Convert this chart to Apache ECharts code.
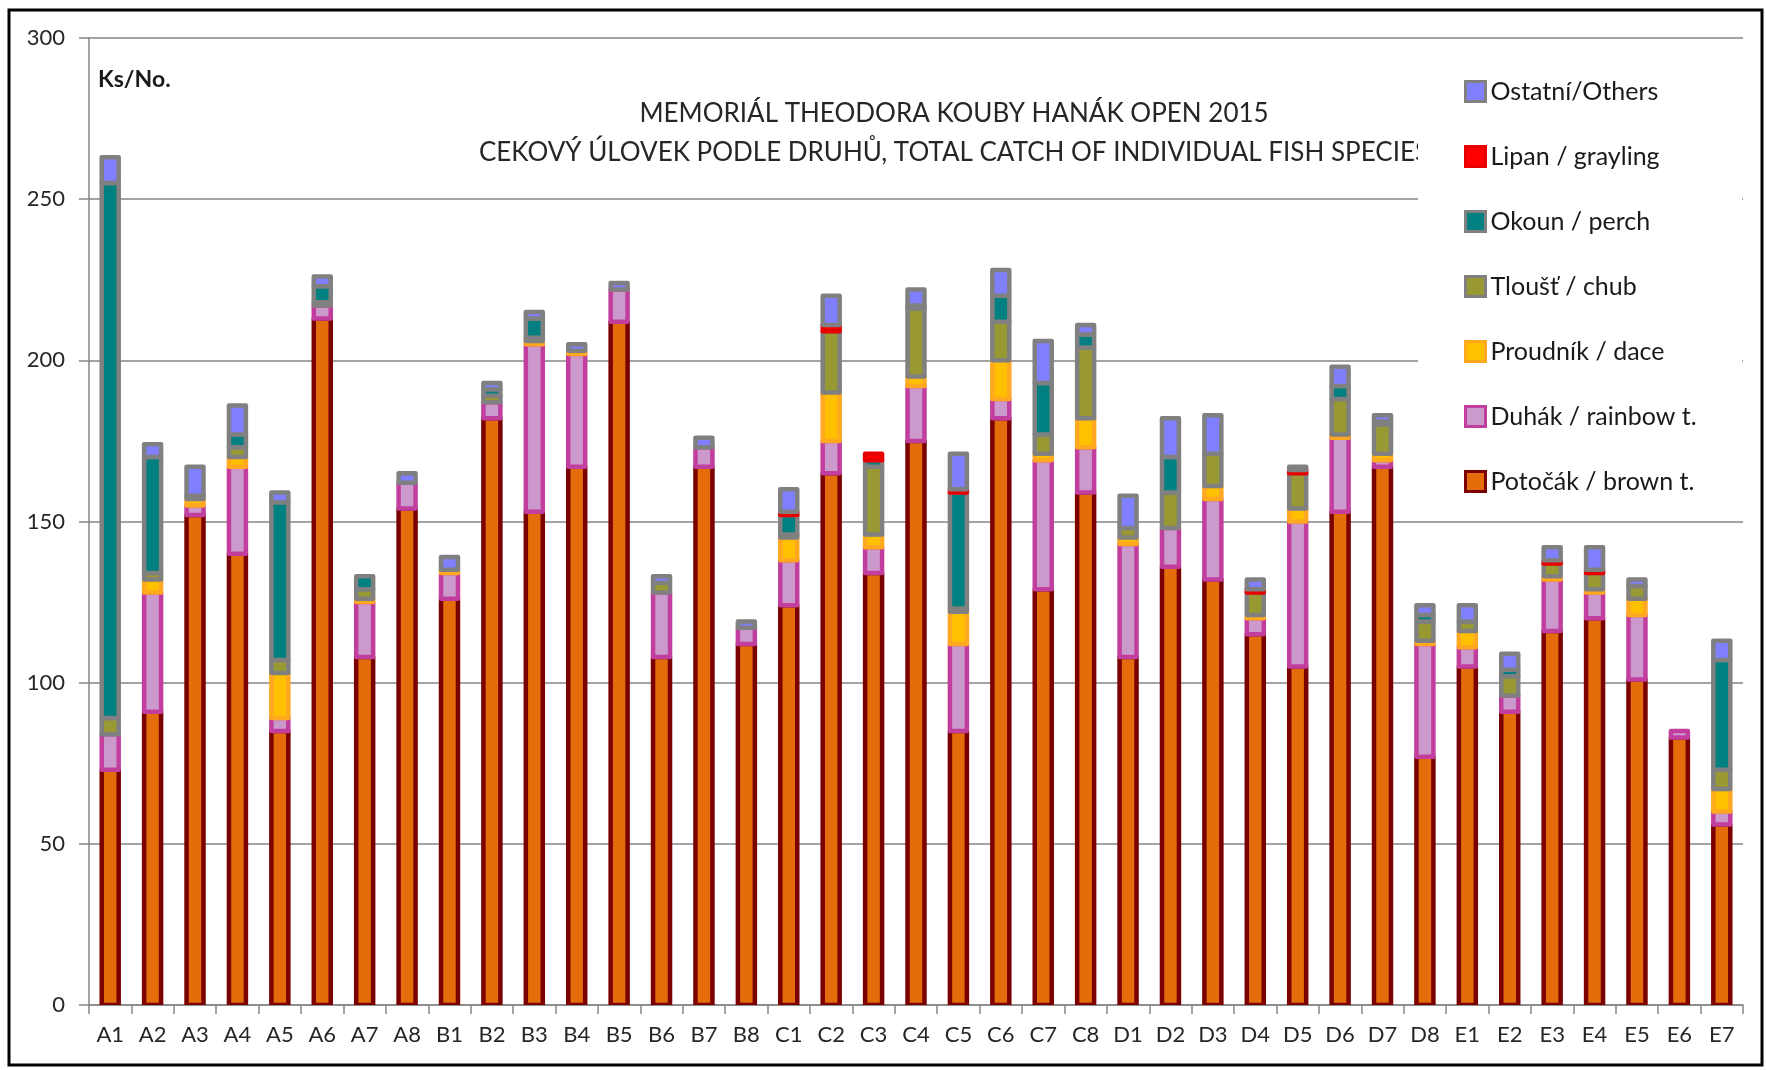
<!DOCTYPE html>
<html><head><meta charset="utf-8">
<script src="https://cdn.jsdelivr.net/npm/echarts@6.0.0/dist/echarts.min.js"></script>
<style>html,body{margin:0;padding:0;background:#fff}#c{width:1766px;height:1070px}</style>
</head><body><div id="c"></div>
<script>
const categories = ['A1','A2','A3','A4','A5','A6','A7','A8','B1','B2','B3','B4','B5','B6','B7','B8','C1','C2','C3','C4','C5','C6','C7','C8','D1','D2','D3','D4','D5','D6','D7','D8','E1','E2','E3','E4','E5','E6','E7'];
const yTicks = [0, 50, 100, 150, 200, 250, 300];
const potocak  = [73,91,152,140,85,213,108,154, 126,182,153,167,212,108,167,112, 124,165,134,175,85,182,129,159, 108,136,132,115,105,153,167,77, 105,91,116,120,101,83,56];
const duhak    = [11,37,3,27,4,4,17,8, 8,5,52,35,10,20,6,5, 14,10,8,17,27,6,40,14, 35,12,25,5,45,23,2,35, 6,5,16,8,20,2,4];
const proudnik = [0,4,2,3,14,0,1,0, 1,0,1,1,0,0,0,0, 7,15,4,3,10,12,2,9, 2,0,4,1,4,1,2,1, 5,0,1,1,5,0,7];
const tloust   = [5,2,1,3,4,1,3,0, 0,2,1,0,0,3,0,0, 1,19,21,21,1,12,6,22, 3,11,10,7,11,11,9,6, 3,6,4,5,4,0,6];
const okoun    = [166,36,0,4,49,5,4,0, 0,2,6,0,0,0,0,0, 6,0,2,1,36,8,16,4, 0,11,0,0,0,4,1,2, 0,2,0,0,0,0,34];
const lipan    = [0,0,0,0,0,0,0,0, 0,0,0,0,0,0,0,0, 1,2,2,0,1,0,0,0, 0,0,0,1,1,0,0,0, 0,0,1,1,0,0,0];
const ostatni  = [8,4,9,9,3,3,0,3, 4,2,2,2,2,2,3,2, 7,9,0,5,11,8,13,3, 10,12,12,3,1,6,2,3, 5,5,4,7,2,0,6];

const seriesDefs = [
  {name:'Potočák / brown t.', data: potocak,  fill:'#E46C0A', border:'#7B0000'},
  {name:'Duhák / rainbow t.', data: duhak,    fill:'#CC99CC', border:'#C23E9E'},
  {name:'Proudník / dace',    data: proudnik, fill:'#FFC000', border:'#FFA820'},
  {name:'Tloušť / chub',      data: tloust,   fill:'#999933', border:'#808080'},
  {name:'Okoun / perch',      data: okoun,    fill:'#008080', border:'#808080'},
  {name:'Lipan / grayling',   data: lipan,    fill:'#FF0000', border:'#E80000'},
  {name:'Ostatní/Others',     data: ostatni,  fill:'#7F7FFF', border:'#808080'}
];
const FONT = 'Lato, "Open Sans", sans-serif';

// stacked segments [categoryIndex, base, top] built from the arrays above
const cum = categories.map(() => 0);
const segs = seriesDefs.map(s => {
  const out = [];
  s.data.forEach((v, i) => { if (v > 0) out.push([i, cum[i], cum[i] + v]); cum[i] += v; });
  return out;
});

const chart = echarts.init(document.getElementById('c'), null, {renderer:'canvas'});
chart.setOption({
  animation: false,
  backgroundColor: '#ffffff',
  grid: {left: 89, right: 23, top: 38, bottom: 65, containLabel: false, outerBoundsMode: 'none'},
  xAxis: {
    type: 'category', data: categories, boundaryGap: true,
    axisLine: {show: true, lineStyle: {color: '#868686', width: 1.5}},
    axisTick: {show: true, alignWithLabel: false, length: 9, lineStyle: {color: '#868686', width: 1.5}},
    axisLabel: {margin: 19, fontSize: 22, fontFamily: FONT, color: '#262626', interval: 0},
    splitLine: {show: false}
  },
  yAxis: {
    type: 'value', min: yTicks[0], max: yTicks[yTicks.length-1], interval: yTicks[1]-yTicks[0],
    axisLine: {show: true, lineStyle: {color: '#868686', width: 1.5}},
    axisTick: {show: true, length: 10, lineStyle: {color: '#868686', width: 1.5}},
    axisLabel: {margin: 24, fontSize: 22, fontFamily: FONT, color: '#262626'},
    splitLine: {show: true, lineStyle: {color: '#868686', width: 1.5}}
  },
  legend: {
    orient: 'vertical', left: 1459, top: 74, itemWidth: 20, itemHeight: 20, itemGap: 40,
    icon: 'rect', selectedMode: false, z: 10,
    data: seriesDefs.map(s => ({name: s.name, itemStyle: {color: s.fill, borderColor: s.border, borderWidth: 3}})).reverse(),
    textStyle: {fontFamily: FONT, fontSize: 25, color: '#1a1a1a', lineHeight: 20}
  },
  graphic: [
    {type:'text', x: 954, y: 114, z: 1, style: {text: 'MEMORIÁL THEODORA KOUBY HANÁK OPEN 2015', fill: '#262626', font: '26px Lato', align: 'center', verticalAlign: 'middle', textAlign: 'center', textVerticalAlign: 'middle'}},
    {type:'text', x: 954, y: 153, z: 1, style: {text: 'CEKOVÝ ÚLOVEK PODLE DRUHŮ, TOTAL CATCH OF INDIVIDUAL FISH SPECIES', fill: '#262626', font: '26px Lato', align: 'center', verticalAlign: 'middle', textAlign: 'center', textVerticalAlign: 'middle'}},
    {type:'text', x: 98, y: 80, z: 1, style: {text: 'Ks/No.', fill: '#1a1a1a', font: 'bold 23px Lato', align: 'left', verticalAlign: 'middle', textAlign: 'left', textVerticalAlign: 'middle'}},
    {type:'rect', z: 3, shape: {x: 1418, y: 58, width: 324, height: 450}, style: {fill: '#ffffff'}},
    {type:'rect', z: 20, shape: {x: 9, y: 10, width: 1753, height: 1055}, style: {fill: 'none', stroke: '#000000', lineWidth: 3}}
  ],
  series: seriesDefs.map((s, si) => ({
    name: s.name, type: 'custom', clip: true,
    data: segs[si],
    encode: {x: 0, y: [1, 2]},
    itemStyle: {color: s.fill, borderColor: s.border, borderWidth: 4.5},
    renderItem: function (params, api) {
      const ci = api.value(0);
      const pBase = api.coord([ci, api.value(1)]);
      const pTop = api.coord([ci, api.value(2)]);
      const w = api.size([1, 0])[0] * 0.4;
      return {
        type: 'rect',
        shape: {x: pBase[0] - w / 2, y: pTop[1], width: w, height: pBase[1] - pTop[1]},
        style: {fill: s.fill, stroke: s.border, lineWidth: 4.5, lineJoin: 'round'}
      };
    }
  }))
});
</script>
</body></html>
